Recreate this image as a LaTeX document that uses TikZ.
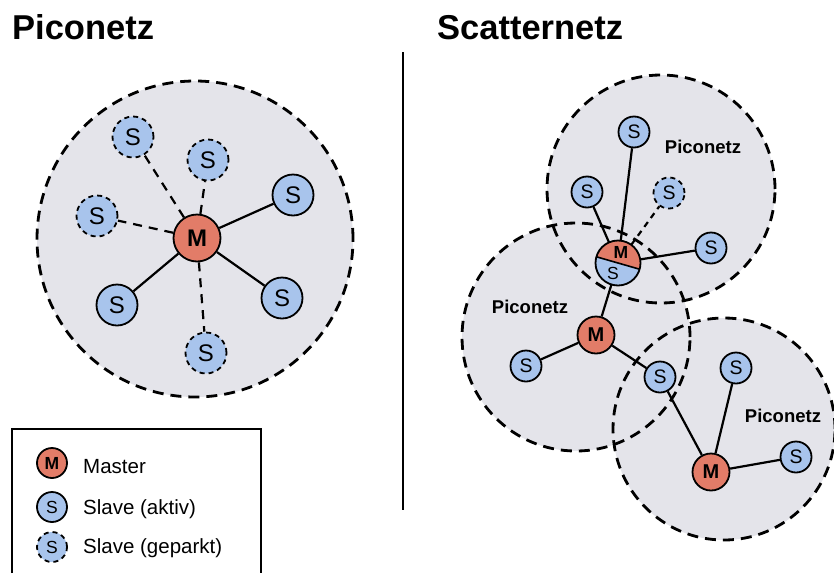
\documentclass[tikz,border=0pt]{standalone}
\usepackage{fontspec}
\setmainfont{Liberation Sans}
\definecolor{netfill}{HTML}{E4E4EA}
\definecolor{mred}{HTML}{E27C68}
\definecolor{sblue}{HTML}{A8C4EC}
\begin{document}
\begin{tikzpicture}[x=1pt,y=-1pt,
 netarea/.style={fill=netfill},
 netline/.style={draw=black, line width=2.8pt, dash pattern=on 11pt off 7pt},
 master/.style={circle, draw, line width=1.8pt, fill=mred, inner sep=0pt},
 slave/.style={circle, draw, line width=1.8pt, fill=sblue, inner sep=0pt},
 parked/.style={slave, dash pattern=on 5pt off 4pt},
 bigm/.style={master, minimum size=47pt, font=\bfseries\fontsize{24}{24}\selectfont},
 bigs/.style={minimum size=41pt, font=\fontsize{24}{24}\selectfont},
 smallm/.style={master, minimum size=37pt, font=\bfseries\fontsize{20}{20}\selectfont},
 smalls/.style={slave, minimum size=31pt, font=\fontsize{19.5}{19.5}\selectfont},
 legm/.style={master, minimum size=30pt, font=\bfseries\fontsize{17.5}{17.5}\selectfont},
 legs/.style={minimum size=30pt, font=\fontsize{17.5}{17.5}\selectfont},
 link/.style={line width=2.2pt},
 parklink/.style={line width=2.2pt, dash pattern=on 9pt off 7pt},
 parklinkr/.style={line width=2.2pt, dash pattern=on 6pt off 5pt},
 title/.style={anchor=base west, inner sep=0pt, font=\bfseries\fontsize{34.5}{34.5}\selectfont},
 sublabel/.style={inner sep=0pt, font=\bfseries\fontsize{18.5}{18.5}\selectfont},
 legtext/.style={anchor=base west, inner sep=0pt, font=\fontsize{20.5}{20.5}\selectfont}
]
\useasboundingbox (0,0) rectangle (834,573);
\fill[white] (0,0) rectangle (834,573);

% titles
\node[title] (t1) at (12,39) {Piconetz};
\node[title] (t2) at (437,39) {Scatternetz};

% separator
\coordinate (sepA) at (403,52);
\coordinate (sepB) at (403,510);
\draw[line width=1.5pt] (sepA) -- (sepB);

% ---------- left piconet ----------
\fill[netarea] (195,239) circle (158pt);
\draw[netline] (195,239) circle (158pt);

\node[bigm] (M) at (197,238) {M};
\node[parked, bigs] (p1) at (133,137) {S};
\node[parked, bigs] (p2) at (208,160) {S};
\node[parked, bigs] (p3) at (97,216) {S};
\node[parked, bigs] (p4) at (206,353) {S};
\node[slave, bigs] (a1) at (293,195) {S};
\node[slave, bigs] (a2) at (117,305) {S};
\node[slave, bigs] (a3) at (282,298) {S};

\draw[parklink] (M) -- (p1);
\draw[parklink] (M) -- (p2);
\draw[parklink] (M) -- (p3);
\draw[parklink] (M) -- (p4);
\draw[link] (M) -- (a1);
\draw[link] (M) -- (a2);
\draw[link] (M) -- (a3);

% ---------- scatternet ----------
\fill[netarea] (661,189) circle (114pt);
\fill[netarea] (576,337) circle (114pt);
\fill[netarea] (724,429) circle (111pt);
\draw[netline] (661,189) circle (114pt);
\draw[netline] (576,337) circle (114pt);
\draw[netline] (724,429) circle (111pt);

\node[sublabel] (l1) at (703,147) {Piconetz};
\node[sublabel] (l2) at (530,307) {Piconetz};
\node[sublabel] (l3) at (783,416) {Piconetz};

% bridge node (master / slave)
\node[circle, minimum size=45pt, inner sep=0pt] (br) at (618,263) {};
\begin{scope}
  \clip (618,263) circle (22.5pt);
  \fill[sblue] (618,263) circle (22.5pt);
  \fill[mred] (578,251.5) -- (658,274.5) -- (658,223) -- (578,223) -- cycle;
  \draw[line width=1.6pt] (578,251.5) -- (658,274.5);
\end{scope}
\node[inner sep=0pt, font=\bfseries\fontsize{17.5}{17.5}\selectfont] (brM) at (621,252) {M};
\node[inner sep=0pt, font=\fontsize{17.5}{17.5}\selectfont] (brS) at (613,273) {S};
\draw[line width=1.8pt] (br.center) circle (22.5pt);

\node[smalls] (ts) at (634,132) {S};
\node[smalls] (ls) at (587,192) {S};
\node[smalls, parked] (ps) at (669,193) {S};
\node[smalls] (rs) at (711,248) {S};
\node[smallm] (mm) at (596,335) {M};
\node[smalls] (mls) at (526,366) {S};
\node[smalls] (shs) at (660,377) {S};
\node[smallm] (bm) at (711,472) {M};
\node[smalls] (bts) at (736,368) {S};
\node[smalls] (brs) at (796,457) {S};

\draw[link] (br) -- (ts);
\draw[link] (br) -- (ls);
\draw[link] (br) -- (rs);
\draw[parklinkr] (br) -- (ps);
\draw[link] (br) -- (mm);
\draw[link] (mm) -- (mls);
\draw[link] (mm) -- (shs);
\draw[link] (shs) -- (bm);
\draw[link] (bm) -- (bts);
\draw[link] (bm) -- (brs);

% ---------- legend ----------
\coordinate (lgA) at (12,573);
\coordinate (lgB) at (261,573);
\draw[line width=1.3pt] (lgA) |- (137,429) -| (lgB);
\node[legm] (lm) at (52,463) {M};
\node[slave, legs] (ls1) at (52,507) {S};
\node[parked, legs] (ls2) at (52,547) {S};
\node[legtext] (tm) at (83,473) {Master};
\node[legtext] (ta) at (83,514) {Slave (aktiv)};
\node[legtext] (tp) at (83,553) {Slave (geparkt)};
\end{tikzpicture}
\end{document}
